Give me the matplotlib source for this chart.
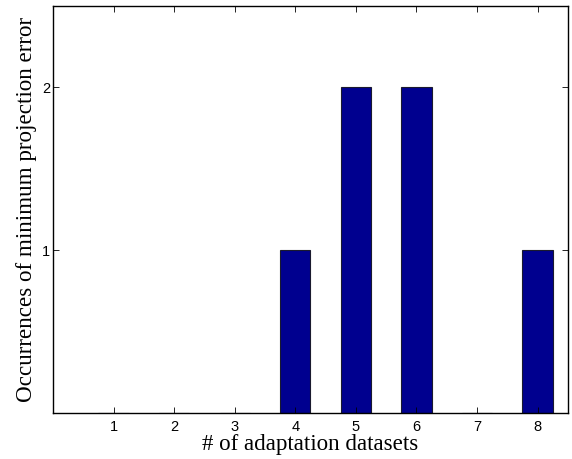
import matplotlib
matplotlib.use("Agg")
import matplotlib.pyplot as plt
import numpy as np

datasets = [1, 2, 3, 4, 5, 6, 7, 8]
occurrences = [0, 0, 0, 1, 2, 2, 0, 1]
yticks = [1, 2]

fig = plt.figure(figsize=(5.72, 4.59), dpi=100)
ax = fig.add_axes([0.0927, 0.100, 0.900, 0.887])

ax.bar(datasets, occurrences, width=0.5, color="#00008f",
       edgecolor="#1a1a2e", linewidth=0.8)

ax.set_xlim(0, 8.5)
ax.set_ylim(0, 2.5)
ax.set_xticks(datasets)
ax.set_yticks(yticks)
ax.tick_params(direction="in", length=4, width=0.6, labelsize=10.5,
               top=True, right=True)
ax.tick_params(axis="x", pad=5)
ax.tick_params(axis="y", pad=2)
for lab in ax.get_xticklabels() + ax.get_yticklabels():
    lab.set_fontfamily("Liberation Sans")
for s in ax.spines.values():
    s.set_linewidth(1.0)

ax.set_xlabel("# of adaptation datasets", family="Liberation Serif",
              fontsize=16.6, labelpad=0)
ax.set_ylabel("Occurrences of minimum projection error",
              family="Liberation Serif", fontsize=16.6, labelpad=4)

fig.savefig("out.png", dpi=100)
